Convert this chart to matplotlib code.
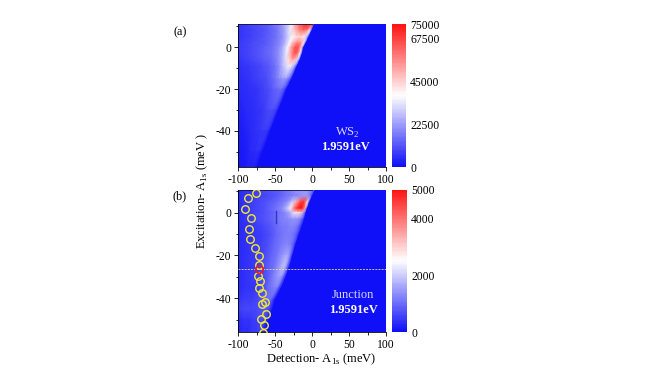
import numpy as np
import matplotlib
matplotlib.use("Agg")
import matplotlib.pyplot as plt
from matplotlib.colors import LinearSegmentedColormap
from matplotlib.ticker import MultipleLocator

plt.rcParams['font.family'] = ['Liberation Serif', 'DejaVu Serif']
plt.rcParams['mathtext.fontset'] = 'custom'
plt.rcParams['mathtext.rm'] = 'Liberation Serif'
plt.rcParams['axes.unicode_minus'] = False

# Position of each column, as a fraction of the way from -100 meV to the
# emission edge of that row (the edge runs diagonally through the map).
frac = [0, .2, .4, .55, .65, .72, .78, .84, .9, .95, 1]

# ---- panel (a): intensity in thousands of counts ----
exc_a = [11.5, 8, 5, 2, 0, -3, -6, -9, -15, -20, -30, -40, -50, -58]
edge_a = [1, -3, -7, -11, -14, -16, -19, -23, -30, -37, -48, -59, -69, -77]
int_a = [
 [6, 9, 12, 18, 28, 40, 55, 65, 72, 74, 70],
 [6, 8, 11, 16, 24, 34, 46, 54, 60, 58, 40],
 [6, 8, 11, 15, 21, 29, 36, 42, 44, 40, 28],
 [7, 9, 11, 15, 20, 27, 36, 50, 58, 56, 40],
 [7, 9, 12, 15, 20, 27, 36, 52, 65, 65, 45],
 [7, 9, 12, 15, 20, 26, 35, 50, 64, 64, 40],
 [6, 8, 11, 14, 18, 24, 31, 42, 52, 48, 30],
 [5, 7, 9, 12, 15, 20, 26, 32, 36, 32, 22],
 [4, 6, 8, 10, 13, 15, 18, 21, 22, 20, 14],
 [4, 5, 6, 8, 10, 11, 13, 14, 15, 14, 10],
 [3, 4, 5, 6, 7, 8, 9, 10, 10, 9, 7],
 [2, 3, 4, 5, 6, 6, 7, 7, 7, 7, 5],
 [2, 2, 3, 4, 4, 4, 5, 5, 5, 4, 3],
 [1, 2, 2, 3, 3, 3, 3, 3, 3, 3, 2],
]

# ---- panel (b): intensity in hundreds of counts ----
exc_b = [11, 8, 5, 2, 0, -3, -6, -10, -15, -20, -25, -30, -35, -41, -45, -50, -57]
edge_b = [2, -2, -6, -9, -11, -13, -16, -20, -25, -29, -33, -38, -44, -53, -56, -61, -68]
int_b = [
 [3, 5, 7, 8, 10, 12, 14, 15, 14, 12, 9],
 [3, 5, 6, 8, 10, 11, 12, 13, 15, 15, 10],
 [3, 5, 7, 9, 11, 14, 20, 34, 45, 46, 28],
 [3, 5, 7, 10, 13, 18, 27, 42, 50, 50, 35],
 [3, 5, 7, 9, 11, 13, 16, 22, 28, 30, 15],
 [3, 5, 7, 9, 11, 12, 13, 14, 14, 13, 8],
 [3, 4, 6, 8, 10, 11, 11, 12, 12, 11, 7],
 [3, 4, 5, 7, 9, 10, 11, 11, 11, 10, 7],
 [3, 4, 5, 7, 9, 10, 11, 12, 12, 11, 8],
 [3, 4, 5, 7, 9, 10, 12, 14, 16, 16, 10],
 [3, 4, 5, 7, 9, 10, 12, 15, 18, 18, 10],
 [3, 4, 5, 6, 8, 10, 12, 14, 15, 14, 8],
 [3, 4, 4, 6, 7, 9, 10, 11, 12, 11, 6],
 [4, 5, 5, 6, 7, 8, 9, 9, 9, 8, 5],
 [5, 6, 6, 6, 7, 7, 8, 8, 7, 6, 4],
 [3, 4, 4, 5, 5, 6, 6, 6, 6, 5, 3],
 [2, 3, 3, 4, 4, 4, 5, 5, 5, 4, 2],
]

# ---- marks in panel (b) ----
circ_x = [-76, -86, -91, -82.4, -85, -83.3, -77, -72, -71, -72.5, -70, -71.5, -67, -63.4, -68, -61.6, -69.3, -64.8, -65.7]
circ_y = [9.3, 6.7, 1.7, -2.3, -7.8, -12.1, -16.7, -20.1, -24.3, -29.6, -31.8, -35.4, -37.4, -41.6, -42.8, -47.4, -49.5, -52.6, -56]
red_x, red_y = [-71.5], [-26.3]
cut_y = -26.3
streak_x, streak_y = [-48.5, -48.5], [-5, 1]

W, H = 667, 375
cmap = LinearSegmentedColormap.from_list('bwr2', ['#1010f8', '#ffffff', '#ff1414'], N=96)


def rect(x0, y0, x1, y1):
    return [x0 / W, 1 - y1 / H, (x1 - x0) / W, (y1 - y0) / H]


def panel(fig, box, cbox, exc, edge, vals, scale, ylim, cticks):
    ax = fig.add_axes(rect(*box))
    edge = np.array(edge, float)
    f = np.array(frac)
    rows = len(exc)
    X = np.empty((rows, len(f) + 2))
    X[:, :len(f)] = -100 + np.outer(edge + 100, f)
    X[:, len(f)] = edge + 3
    X[:, len(f) + 1] = 100
    Y = np.repeat(np.array(exc, float)[:, None], X.shape[1], axis=1)
    Z = np.hstack([np.array(vals, float) * scale, np.zeros((rows, 2))])
    vmax = cticks[-1]
    ax.pcolormesh(X, Y, Z, shading='gouraud', cmap=cmap, vmin=0, vmax=vmax, rasterized=True)
    ax.set_xlim(-100, 100)
    ax.set_ylim(*ylim)
    ax.set_xticks([-100, -50, 0, 50, 100])
    ax.set_yticks([-40, -20, 0])
    ax.xaxis.set_minor_locator(MultipleLocator(25))
    ax.yaxis.set_minor_locator(MultipleLocator(10))
    ax.tick_params(which='major', length=3, width=0.6, labelsize=8.4, pad=2)
    ax.tick_params(which='minor', length=1.8, width=0.6)
    for s in ('top', 'right'):
        ax.spines[s].set_visible(False)
    for s in ('left', 'bottom'):
        ax.spines[s].set_linewidth(0.6)
    ax.plot([-100, 0], [ylim[1]] * 2, color='#101040', lw=0.6, clip_on=False)
    cax = fig.add_axes(rect(*cbox))
    grad = np.linspace(0, vmax, 128).reshape(-1, 1)
    cax.imshow(grad, origin='lower', aspect='auto', cmap=cmap, vmin=0, vmax=vmax, extent=[0, 1, 0, vmax])
    cax.set_xticks([])
    cax.yaxis.tick_right()
    cax.set_yticks(cticks)
    cax.tick_params(length=0, labelsize=8.4, pad=3)
    for s in cax.spines.values():
        s.set_visible(False)
    return ax


fig = plt.figure(figsize=(W / 100, H / 100), dpi=100, facecolor='white')

ax_a = panel(fig, (238, 24.3, 386, 167.3), (392, 24.3, 406, 167.3), exc_a, edge_a, int_a, 1000,
             (-57.5, 11), [0, 22500, 45000, 67500, 75000])
ax_b = panel(fig, (238, 190, 386, 332.3), (392, 190, 407, 332.3), exc_b, edge_b, int_b, 100,
             (-55.9, 10.6), [0, 2000, 4000, 5000])

ax_b.plot(streak_x, streak_y, color='#1010a0', lw=1.0, alpha=0.6, zorder=2)
ax_b.plot(circ_x, circ_y, ls='none', marker='o', ms=5.4, mfc='none', mec='#f2ea2c', mew=1.0, zorder=4)
ax_b.plot(red_x, red_y, ls='none', marker='o', ms=5.4, mfc='none', mec='#f01818', mew=1.2, zorder=5)
ax_b.axhline(cut_y, color='#e8dfa0', lw=0.7, alpha=0.85, ls=(0, (2, 1.2)), zorder=3)


def ftext(x, y, s, **kw):
    fig.text(x / W, 1 - y / H, s, ha='center', va='center', **kw)


ftext(180.5, 32, '(a)', fontsize=8.8)
ftext(180, 196, '(b)', fontsize=8.8)
ftext(347, 133, r'WS$_{\mathregular{2}}$', fontsize=9, color='#d8d8ff')
ftext(345, 147, '1.9591eV', fontsize=9, color='white', fontweight='bold')
ftext(353, 295, 'Junction', fontsize=9, color='#d8d8ff')
ftext(353, 310, '1.9591eV', fontsize=9, color='white', fontweight='bold')
ftext(321, 359, r'Detection- A$_{\mathregular{1s}}$ (meV)', fontsize=9)
ftext(202, 191, r'Excitation- A$_{\mathregular{1s}}$ (meV )', fontsize=9, rotation=90)

fig.savefig('out.png', dpi=100)
